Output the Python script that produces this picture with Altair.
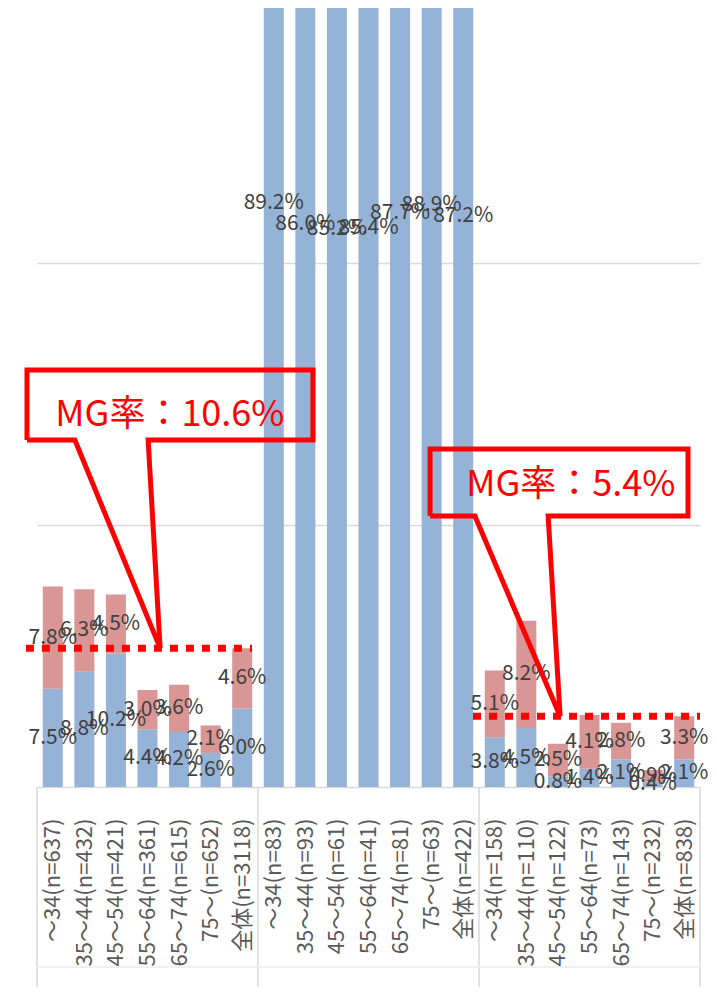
import json
import altair as alt
import pandas as pd

# ---------------- data ----------------
cats_g1 = ["～34(n=637)", "35～44(n=432)", "45～54(n=421)", "55～64(n=361)",
           "65～74(n=615)", "75～(n=652)", "全体(n=3118)"]
cats_g2 = ["～34(n=83)", "35～44(n=93)", "45～54(n=61)", "55～64(n=41)",
           "65～74(n=81)", "75～(n=63)", "全体(n=422)"]
cats_g3 = ["～34(n=158)", "35～44(n=110)", "45～54(n=122)", "55～64(n=73)",
           "65～74(n=143)", "75～(n=232)", "全体(n=838)"]

blue_g1 = [7.5, 8.8, 10.2, 4.4, 4.2, 2.6, 6.0]
red_g1 = [7.8, 6.3, 4.5, 3.0, 3.6, 2.1, 4.6]
blue_g2 = [89.2, 86.0, 85.2, 85.4, 87.7, 88.9, 87.2]
red_g2 = [None] * 7          # above the visible axis range
blue_g3 = [3.8, 4.5, 0.8, 1.4, 2.1, 0.4, 2.1]
red_g3 = [5.1, 8.2, 2.5, 4.1, 2.8, 0.9, 3.3]

mg_rates = [10.6, 5.4]
mg_texts = ["MG率：10.6%", "MG率：5.4%"]

categories = cats_g1 + cats_g2 + cats_g3
blue = blue_g1 + blue_g2 + blue_g3
red = red_g1 + red_g2 + red_g3

FONT = "Noto Sans CJK JP"
BLUE = "#95B3D7"
RED = "#DA9694"
W, H = 663, 786

rows = []
for i, (b, r) in enumerate(zip(blue, red)):
    rows.append(dict(idx=i, series="blue", y0=0.0, y1=b, value=b))
    if r is not None:
        rows.append(dict(idx=i, series="red", y0=b, y1=b + r, value=r))
bars_df = pd.DataFrame(rows)

xscale = alt.Scale(domain=[-0.5, 20.5], nice=False, zero=False)
yscale = alt.Scale(domain=[0, 60], nice=False)

label_expr = "[" + ",".join(json.dumps(c, ensure_ascii=False) for c in categories) + "][round(datum.value)]"

xaxis = alt.Axis(values=list(range(len(categories))), labelExpr=label_expr,
                 labelAngle=270, labelAlign="right", labelBaseline="middle",
                 labelPadding=31, labelFontSize=22, labelColor="#595959",
                 labelFont=FONT, ticks=False, domainColor="#d9d9d9",
                 domainWidth=1.5, grid=False, title=None, labelOverlap=False,
                 labelBound=False, labelFlush=False)
yaxis = alt.Axis(values=[20, 40, 60], grid=True, gridColor="#d9d9d9",
                 gridWidth=1.5, labels=False, ticks=False, domain=False,
                 title=None)


def X(field):
    return alt.X(field, scale=xscale, axis=xaxis)


def Y(field):
    return alt.Y(field, scale=yscale, axis=yaxis)


base = alt.Chart(bars_df).transform_calculate(
    xa="datum.idx - 0.317",
    xb="datum.idx + 0.317",
    ym="(datum.y0 + datum.y1) / 2",
    lab="format(datum.value, '.1f') + '%'",
)

bars = base.mark_bar(clip=True).encode(
    x=X("xa:Q"),
    x2="xb:Q",
    y=Y("y0:Q"),
    y2="y1:Q",
    color=alt.Color("series:N", scale=alt.Scale(domain=["blue", "red"], range=[BLUE, RED]),
                    legend=None),
)

labels = base.mark_text(fontSize=21, color="#404040", font=FONT).encode(
    x=X("idx:Q"),
    y=Y("ym:Q"),
    text="lab:N",
)

# group dividers of the two-level category axis
div_df = pd.DataFrame({"x": [-0.5, 6.5, 13.5, 20.5]})
dividers = alt.Chart(div_df).mark_rule(color="#d9d9d9", strokeWidth=1.5).encode(
    x=X("x:Q"),
    y=alt.value(H),
    y2=alt.value(H + 220),
)
level_line = alt.Chart(div_df).mark_rule(color="#eeeeee", strokeWidth=1).encode(
    x=alt.value(0), x2=alt.value(W), y=alt.value(H + 180),
)

# MG rate dotted lines (annotation extents in category-index units)
mg_df = pd.DataFrame({"y": mg_rates, "xs": [-0.85, 13.31], "xe": [6.31, 20.5]})
mg_lines = alt.Chart(mg_df).mark_rule(color="#FF0000", strokeWidth=7,
                                      strokeDash=[8, 8]).encode(
    x=X("xs:Q"),
    x2="xe:Q",
    y=Y("y:Q"),
)

# callout bubbles (layout in data units: category index / percent)
layouts = [
    dict(x0=-0.817, x1=8.24, ytop=31.83, ybot=26.49, b1=0.70, b2=3.02, tipx=3.40, tx=3.71, ty=28.4),
    dict(x0=11.95, x1=20.12, ytop=25.80, ybot=20.69, b1=13.37, b2=15.69, tipx=16.07, tx=16.41, ty=23.05),
]
pts = []
txt_rows = []
for k, (L, mg, t) in enumerate(zip(layouts, mg_rates, mg_texts)):
    path = [(L["x0"], L["ybot"]), (L["x0"], L["ytop"]), (L["x1"], L["ytop"]),
            (L["x1"], L["ybot"]), (L["b2"], L["ybot"]), (L["tipx"], mg),
            (L["b1"], L["ybot"]), (L["x0"], L["ybot"])]
    for o, (px, py) in enumerate(path):
        pts.append(dict(cid=k, o=o, x=px, y=py))
    txt_rows.append(dict(x=L["tx"], y=L["ty"], t=t))
call_df = pd.DataFrame(pts)
ctext_df = pd.DataFrame(txt_rows)

callouts = alt.Chart(call_df).mark_line(color="#FF0000", strokeWidth=5,
                                        strokeJoin="miter").encode(
    x=X("x:Q"),
    y=Y("y:Q"),
    detail="cid:N",
    order="o:Q",
)
callout_text = alt.Chart(ctext_df).mark_text(color="#FF0000", fontSize=36, font=FONT,
                                             align="center", baseline="middle").encode(
    x=X("x:Q"),
    y=Y("y:Q"),
    text="t:N",
)

chart = alt.layer(
    dividers, level_line, bars, labels, mg_lines, callouts, callout_text
).properties(
    width=W, height=H,
    autosize=alt.AutoSizeParams(type="none"),
    padding={"left": 29, "top": -7, "right": 9, "bottom": 200},
    background="white",
).configure_view(stroke=None)

chart.save("out.html", embed_options={"renderer": "svg", "actions": False})
